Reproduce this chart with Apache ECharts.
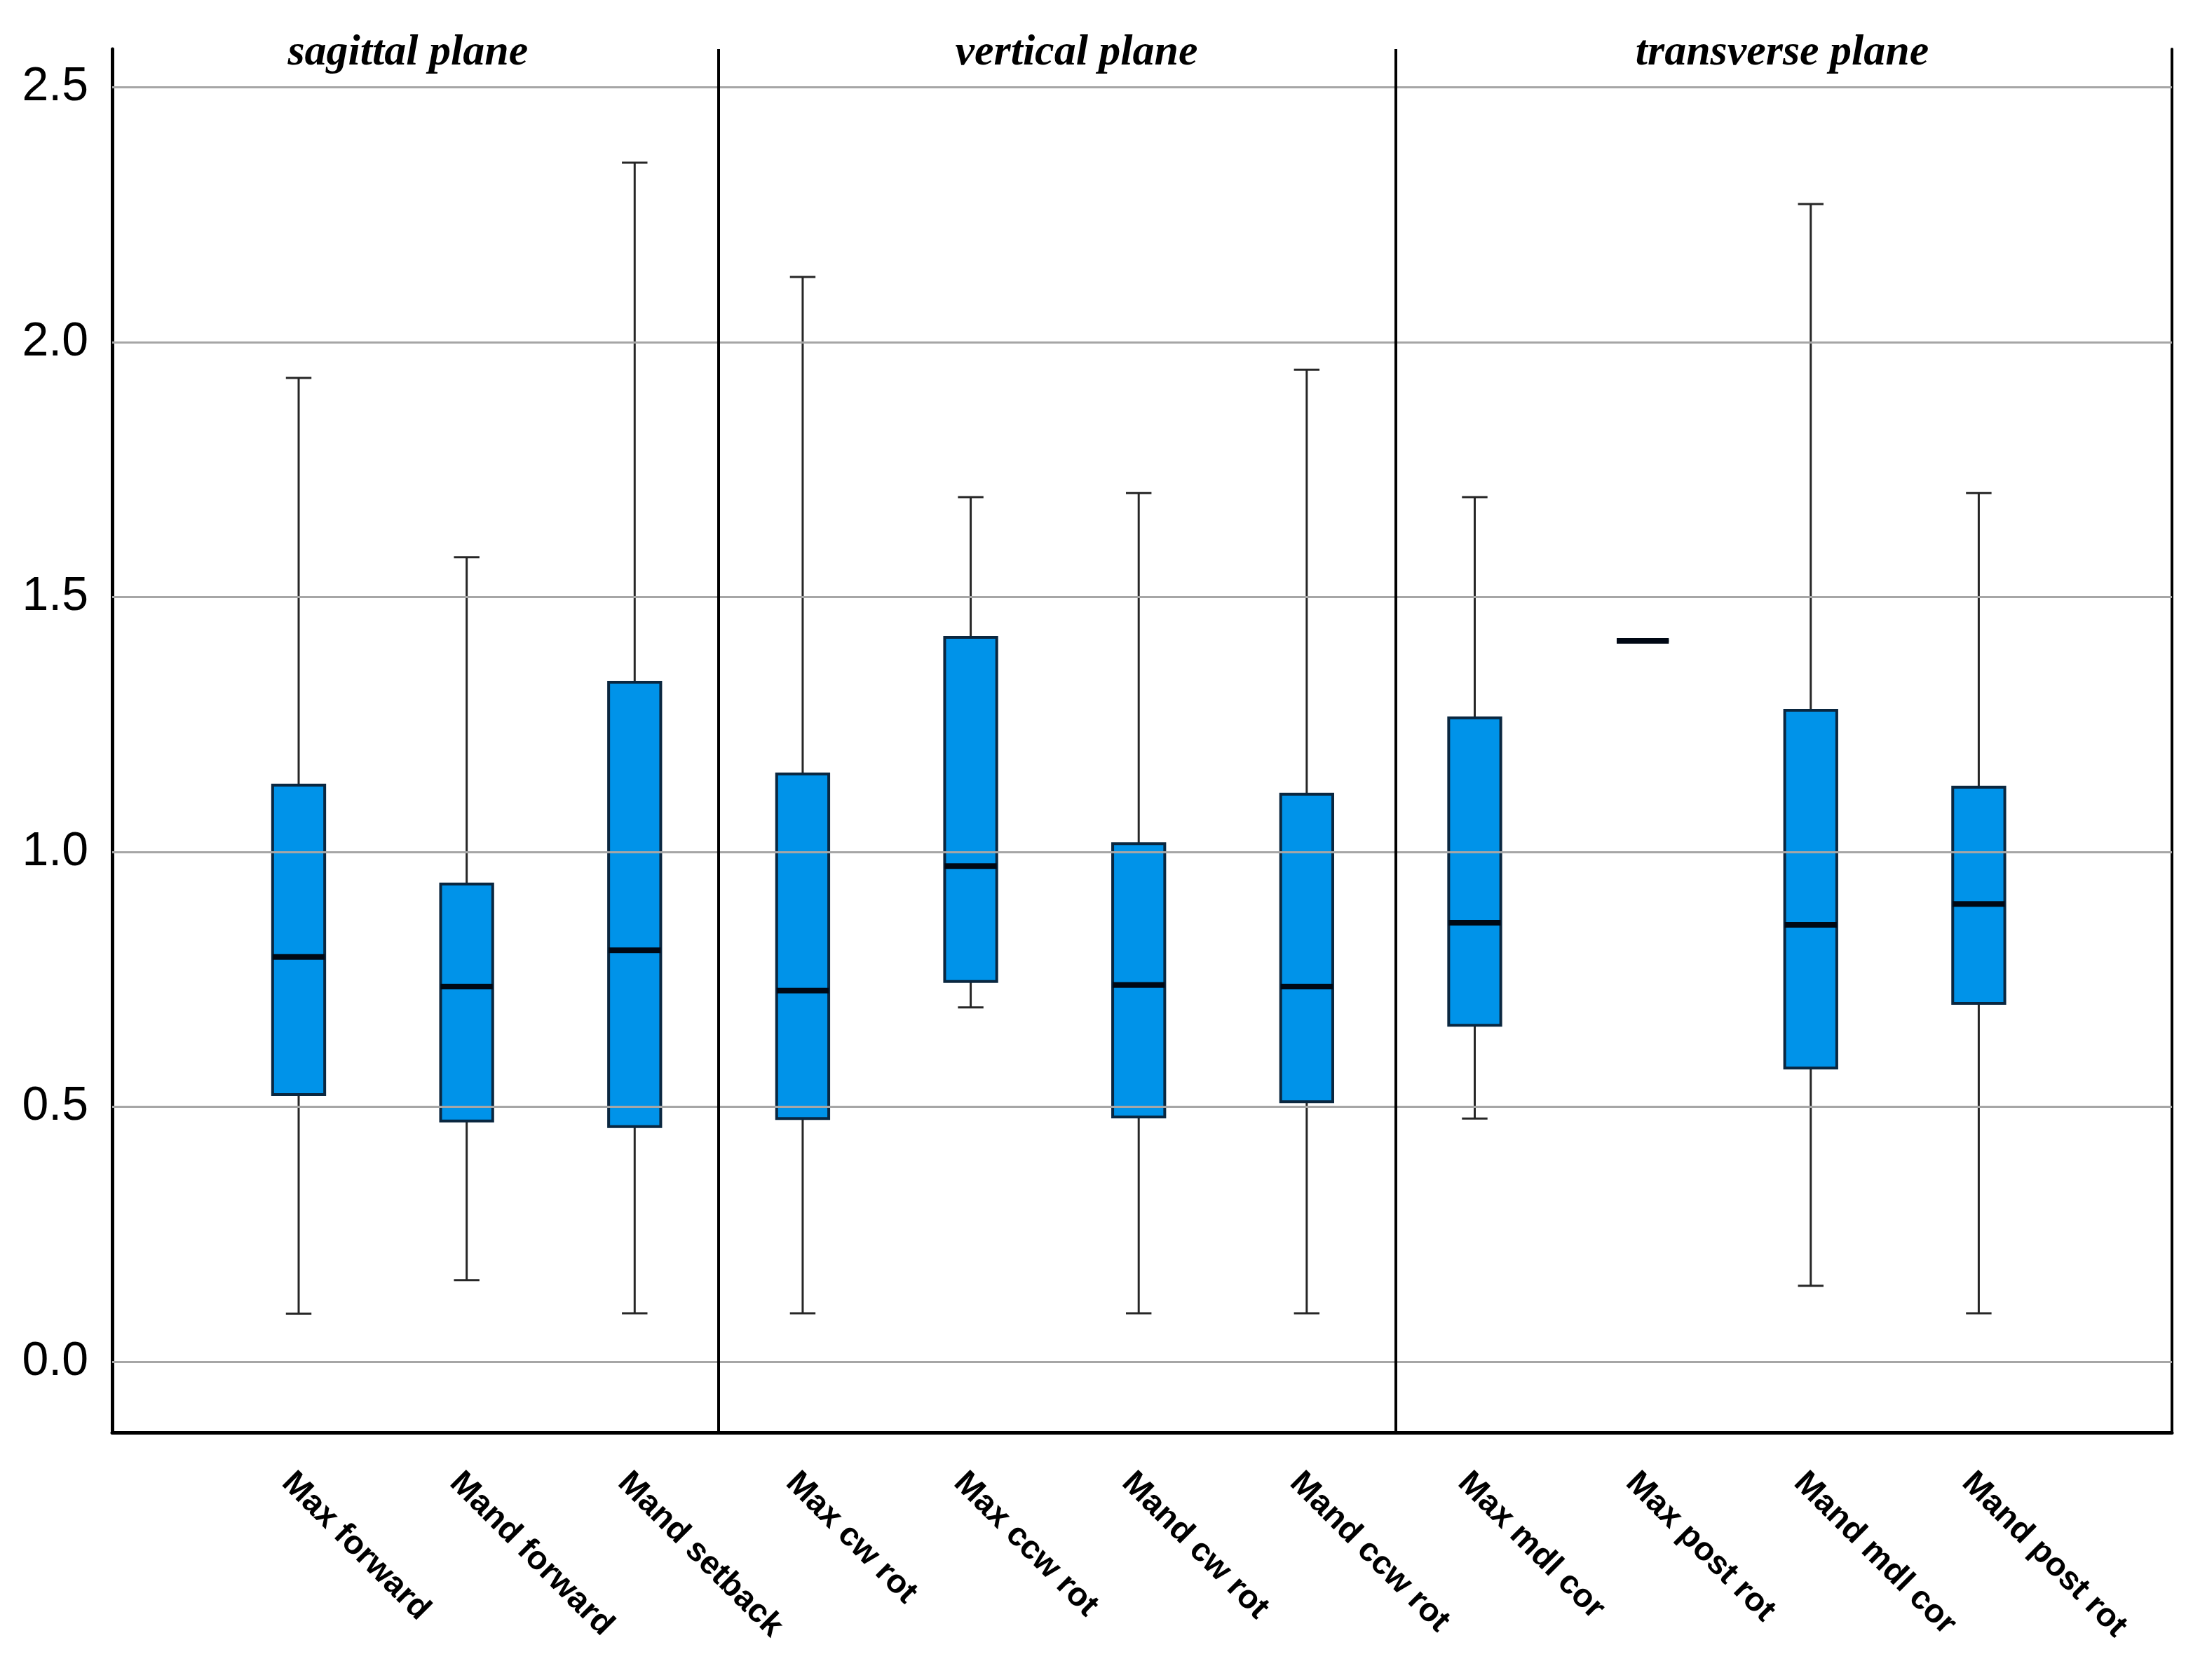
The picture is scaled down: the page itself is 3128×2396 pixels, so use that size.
<!DOCTYPE html>
<html>
<head>
<meta charset="utf-8">
<script src="https://cdn.jsdelivr.net/npm/echarts@6/dist/echarts.min.js"></script>
<style>
html,body{margin:0;padding:0;background:#fff;}
#chart{width:3128px;height:2396px;}
</style>
</head>
<body>
<div id="chart"></div>
<script>
// ---- data ----
const categories = ['Max forward','Mand forward','Mand setback','Max cw rot','Max ccw rot','Mand cw rot','Mand ccw rot','Max mdl cor','Max post rot','Mand mdl cor','Mand post rot'];
const whiskerLow  = [0.094, 0.160, 0.095, 0.095, 0.695, 0.095, 0.095, 0.477, 1.414, 0.149, 0.095];
const quartile1   = [0.524, 0.472, 0.461, 0.477, 0.746, 0.480, 0.510, 0.660, 1.414, 0.576, 0.703];
const medians     = [0.794, 0.736, 0.807, 0.728, 0.972, 0.739, 0.736, 0.861, 1.414, 0.857, 0.898];
const quartile3   = [1.131, 0.937, 1.333, 1.153, 1.421, 1.016, 1.113, 1.263, 1.414, 1.278, 1.127];
const whiskerHigh = [1.930, 1.578, 2.352, 2.128, 1.696, 1.704, 1.946, 1.696, 1.414, 2.271, 1.704];
const yTicks = [0, 0.5, 1.0, 1.5, 2.0, 2.5];
const planeDividers = [2.5, 6.53];
const planeNames = ['sagittal plane', 'vertical plane', 'transverse plane'];
const planeCenters = [0.65, 4.63, 8.83];

const xRange = [-1.11, 11.15];
const yRange = [-0.139, 2.575];

const boxData = categories.map((c, i) => [i, whiskerLow[i], quartile1[i], medians[i], quartile3[i], whiskerHigh[i]]);

const chart = echarts.init(document.getElementById('chart'), null, {renderer: 'canvas'});

function renderBox(params, api) {
  const x = api.value(0);
  const unit = api.size([1, 0])[0];
  const hw = unit * 0.155;
  const cw = unit * 0.076;
  const pMin = api.coord([x, api.value(1)]);
  const pQ1 = api.coord([x, api.value(2)]);
  const pMed = api.coord([x, api.value(3)]);
  const pQ3 = api.coord([x, api.value(4)]);
  const pMax = api.coord([x, api.value(5)]);
  const cx = pMed[0];
  const wStyle = {stroke: '#262626', lineWidth: 3};
  return {
    type: 'group',
    children: [
      {type: 'line', shape: {x1: cx, y1: pQ3[1], x2: cx, y2: pMax[1]}, style: wStyle},
      {type: 'line', shape: {x1: cx, y1: pQ1[1], x2: cx, y2: pMin[1]}, style: wStyle},
      {type: 'line', shape: {x1: cx - cw, y1: pMax[1], x2: cx + cw, y2: pMax[1]}, style: wStyle},
      {type: 'line', shape: {x1: cx - cw, y1: pMin[1], x2: cx + cw, y2: pMin[1]}, style: wStyle},
      {type: 'rect', shape: {x: cx - hw, y: pQ3[1], width: hw * 2, height: pQ1[1] - pQ3[1]},
        style: {fill: '#0093E9', stroke: '#0a2740', lineWidth: 4}},
      {type: 'line', shape: {x1: cx - hw, y1: pMed[1], x2: cx + hw, y2: pMed[1]},
        style: {stroke: '#000814', lineWidth: 8}}
    ]
  };
}

const option = {
  backgroundColor: '#ffffff',
  animation: false,
  grid: {left: 160, right: 30, top: 70, bottom: 353, containLabel: false},
  xAxis: {
    type: 'value', min: xRange[0], max: xRange[1],
    splitLine: {show: false},
    axisTick: {show: false},
    axisLine: {show: true, onZero: false, lineStyle: {color: '#000', width: 5}},
    axisLabel: {
      customValues: categories.map((c, i) => i),
      formatter: v => categories[Math.round(v)] || '',
      rotate: -45, align: 'left', verticalAlign: 'top', margin: 48,
      fontFamily: 'Liberation Sans, Arial, sans-serif', fontWeight: 'bold', fontSize: 47, color: '#000'
    }
  },
  yAxis: [{
    type: 'value', min: yRange[0], max: yRange[1], position: 'left',
    splitLine: {show: false},
    axisTick: {show: false},
    axisLine: {show: true, onZero: false, lineStyle: {color: '#000', width: 5}},
    axisLabel: {
      customValues: yTicks,
      formatter: v => v.toFixed(1),
      margin: 34,
      fontFamily: 'Liberation Sans, Arial, sans-serif', fontSize: 68, color: '#000'
    }
  }, {
    type: 'value', min: yRange[0], max: yRange[1], position: 'right',
    splitLine: {show: false}, axisTick: {show: false}, axisLabel: {show: false},
    axisLine: {show: true, onZero: false, lineStyle: {color: '#000', width: 4}}
  }],
  series: [
    {
      type: 'line', data: [], z: 1, silent: true,
      markLine: {
        silent: true, symbol: ['none', 'none'], label: {show: false},
        lineStyle: {color: '#a6a6a6', width: 3, type: 'solid'},
        data: yTicks.map(v => ({yAxis: v}))
      }
    },
    {
      type: 'custom', z: 3, renderItem: renderBox, data: boxData,
      encode: {x: 0, y: [1, 2, 3, 4, 5]}
    },
    {
      type: 'line', data: [], z: 5, silent: true,
      markLine: {
        silent: true, symbol: ['none', 'none'], label: {show: false},
        lineStyle: {color: '#000', width: 4, type: 'solid'},
        data: planeDividers.map(v => ({xAxis: v}))
      }
    }
  ]
};
chart.setOption(option);

const titleGraphics = planeNames.map((name, i) => {
  const px = chart.convertToPixel({xAxisIndex: 0}, planeCenters[i]);
  return {
    type: 'text', x: px, y: 76,
    style: {
      text: name, align: 'center', verticalAlign: 'middle',
      font: 'italic bold 62px "Liberation Serif", "Times New Roman", serif',
      fill: '#000'
    }
  };
});
chart.setOption({graphic: titleGraphics});
</script>
</body>
</html>
